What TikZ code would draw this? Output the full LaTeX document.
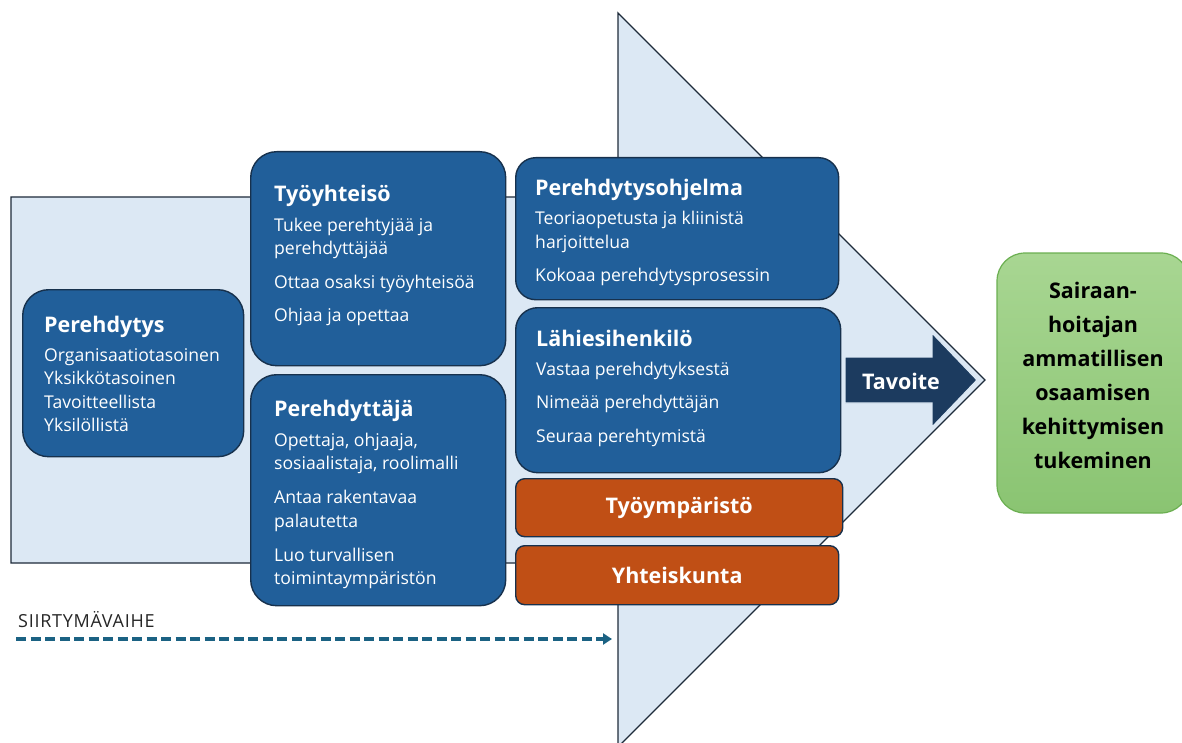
\documentclass[tikz,border=0pt]{standalone}
\usepackage{fontspec}
\setmainfont{Open Sans}
\newfontfamily\phasefont[LetterSpace=4]{Open Sans}
\usetikzlibrary{
	arrows.meta,
	positioning
}
\definecolor{flowbg}{HTML}{DCE8F4}
\definecolor{flowline}{HTML}{1E2B3A}
\definecolor{boxblue}{HTML}{215F9A}
\definecolor{boxline}{HTML}{17314D}
\definecolor{boxorange}{HTML}{C04F15}
\definecolor{goalnavy}{HTML}{1C3B5F}
\definecolor{goaltop}{HTML}{A8D692}
\definecolor{goalbottom}{HTML}{8AC472}
\definecolor{goalline}{HTML}{6BAF51}
\definecolor{phaseteal}{HTML}{1B6283}
\newcommand\boxhead[1]{{\bfseries\fontsize{21.5}{23.5}\selectfont #1}}
\tikzset{
	bluebox/.style={
		draw=boxline, fill=boxblue, line width=1.4pt,
		rounded corners=26pt, inner sep=0pt, anchor=north west
	},
	orangebox/.style={
		draw=boxline, fill=boxorange, line width=1.4pt,
		rounded corners=9pt, inner sep=0pt, anchor=north west,
		text=white, font=\bfseries\fontsize{21.5}{23}\selectfont
	},
	boxtext/.style={
		text=white, align=left, inner sep=0pt,
		font=\fontsize{17.6}{23.5}\selectfont
	},
	goalbox/.style={
		draw=goalline, line width=1.2pt, rounded corners=28pt,
		top color=goaltop, bottom color=goalbottom, inner sep=0pt
	},
	goaltext/.style={
		align=center, inner sep=0pt,
		font=\bfseries\fontsize{21.5}{34}\selectfont
	},
	phasearrow/.style={
		draw=phaseteal, line width=4pt, dash pattern=on 10pt off 4.5pt,
		-{Triangle[length=9pt,width=11pt]}
	}
}

\begin{document}
\begin{tikzpicture}[x=1pt,y=-1pt]
	\useasboundingbox (0,0) rectangle (1182,743);

	% background: rectangle and big arrow
	\filldraw[fill=flowbg, draw=flowline, line width=1.3pt]
		(11,197) -- (618,197) -- (618,13) -- (985,380) -- (618,747)
		-- (618,563) -- (11,563) -- cycle;

	% left column
	\node[bluebox, minimum width=221pt, minimum height=167pt] (pere) at (22,289) {};
	\node[boxtext, below right=27pt and 22pt of pere.north west] (peretxt)
		{\boxhead{Perehdytys}\\[5pt]
		 Organisaatiotasoinen\\
		 Yksikkötasoinen\\
		 Tavoitteellista\\
		 Yksilöllistä};

	% middle column
	\node[bluebox, minimum width=255pt, minimum height=214pt] (tyo) at (250,151) {};
	\node[boxtext, below right=34pt and 24pt of tyo.north west] (tyotxt)
		{\boxhead{Työyhteisö}\\[6pt]
		 Tukee perehtyjää ja\\
		 perehdyttäjää\\[10pt]
		 Ottaa osaksi työyhteisöä\\[10pt]
		 Ohjaa ja opettaa};

	\node[bluebox, minimum width=255pt, minimum height=231pt] (ohj) at (250,374) {};
	\node[boxtext, below right=26pt and 24pt of ohj.north west] (ohjtxt)
		{\boxhead{Perehdyttäjä}\\[6pt]
		 Opettaja, ohjaaja,\\
		 sosiaalistaja, roolimalli\\[10.5pt]
		 Antaa rakentavaa\\
		 palautetta\\[10.5pt]
		 Luo turvallisen\\
		 toimintaympäristön};

	% right column
	\node[bluebox, rounded corners=20pt, minimum width=323pt, minimum height=142pt] (prog) at (515,157) {};
	\node[boxtext, below right=22pt and 20pt of prog.north west] (progtxt)
		{\boxhead{Perehdytysohjelma}\\[5.5pt]
		 Teoriaopetusta ja kliinistä\\
		 harjoittelua\\[9.5pt]
		 Kokoaa perehdytysprosessin};

	\node[bluebox, rounded corners=22pt, minimum width=325pt, minimum height=165pt] (lahi) at (515,307) {};
	\node[boxtext, below right=23pt and 21pt of lahi.north west] (lahitxt)
		{\boxhead{Lähiesihenkilö}\\[5.5pt]
		 Vastaa perehdytyksestä\\[9.5pt]
		 Nimeää perehdyttäjän\\[10.5pt]
		 Seuraa perehtymistä};

	\node[orangebox, minimum width=327pt, minimum height=58pt] (ymp) at (515,478) {Työympäristö};
	\node[orangebox, minimum width=323pt, minimum height=59pt] (yht) at (515,545) {Yhteiskunta};

	% goal arrow
	\filldraw[fill=goalnavy, draw=flowbg, line width=1.2pt]
		(845,357) -- (932,357) -- (932,333) -- (977,380) -- (932,427)
		-- (932,403) -- (845,403) -- cycle;
	\node[text=white, inner sep=0pt, font=\bfseries\fontsize{21.5}{23}\selectfont] (tavoite) at (901,381) {Tavoite};

	% goal box
	\node[goalbox, minimum width=192pt, minimum height=260pt] (goal) at (1093,383) {};
	\node[goaltext] (goaltxt) at ([yshift=8pt]goal.center)
		{Sairaan-\\
		 hoitajan\\
		 ammatillisen\\
		 osaamisen\\
		 kehittymisen\\
		 tukeminen};

	% transition phase
	\coordinate (phasestart) at (16,639);
	\coordinate (phaseend) at (612,639);
	\draw[phasearrow] (phasestart) -- (phaseend);
	\node[inner sep=0pt, text=black!85, font=\phasefont\fontsize{18}{20}\selectfont,
		above right=11pt and 2pt of phasestart] (phase) {SIIRTYMÄVAIHE};
\end{tikzpicture}
\end{document}
